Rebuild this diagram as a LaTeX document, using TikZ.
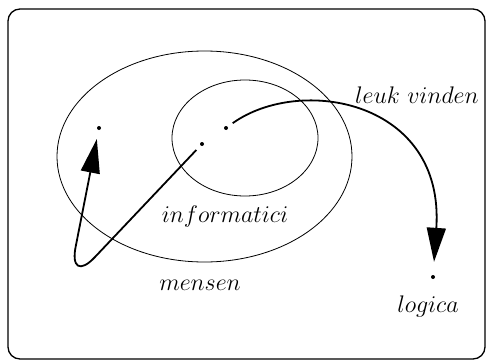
\documentclass[tikz,border=0pt]{standalone}
\usepackage{graphicx}
\usetikzlibrary{arrows.meta}
\newcommand{\lbltxt}[1]{\scalebox{0.965}{\Huge$#1$}}
\begin{document}
\begin{tikzpicture}[x=1pt,y=-1pt,
  dot/.style={circle,fill=black,inner sep=0pt,minimum size=4pt},
  lab/.style={inner sep=0pt},
  set/.style={draw,line width=0.8pt},
  rel/.style={line width=1.8pt,-{Triangle[length=34pt,width=19pt]}}]
\useasboundingbox (0,0) rectangle (487,361);
\draw[line width=1.3pt,rounded corners=12pt] (8,9) rectangle (485,359);
\draw[set] (204.5,156.5) ellipse [x radius=147.5pt,y radius=105.5pt];
\draw[set] (245,138) ellipse [x radius=73pt,y radius=58pt];
\node[dot] (m) at (99,128) {};
\node[dot] (i1) at (202,144) {};
\node[dot] (i2) at (226,128) {};
\node[dot] (l) at (433,277) {};
\node[lab] (lv) at (417,95) {\lbltxt{leuk\ vinden}};
\node[lab] (inf) at (225,216) {\lbltxt{informatici}};
\node[lab] (men) at (200,285) {\lbltxt{mensen}};
\node[lab] (log) at (428,306) {\lbltxt{logica}};
\coordinate (b1) at (95,257);
\coordinate (b2) at (76,245);
\draw[rel,shorten <=6pt,shorten >=9pt] (i1) -- (b1) .. controls (80,273) and (71,268) .. (b2) -- (m);
\draw[rel,shorten <=6pt,shorten >=13pt] (i2) .. controls (300,75) and (445,100) .. (l);
\end{tikzpicture}
\end{document}
